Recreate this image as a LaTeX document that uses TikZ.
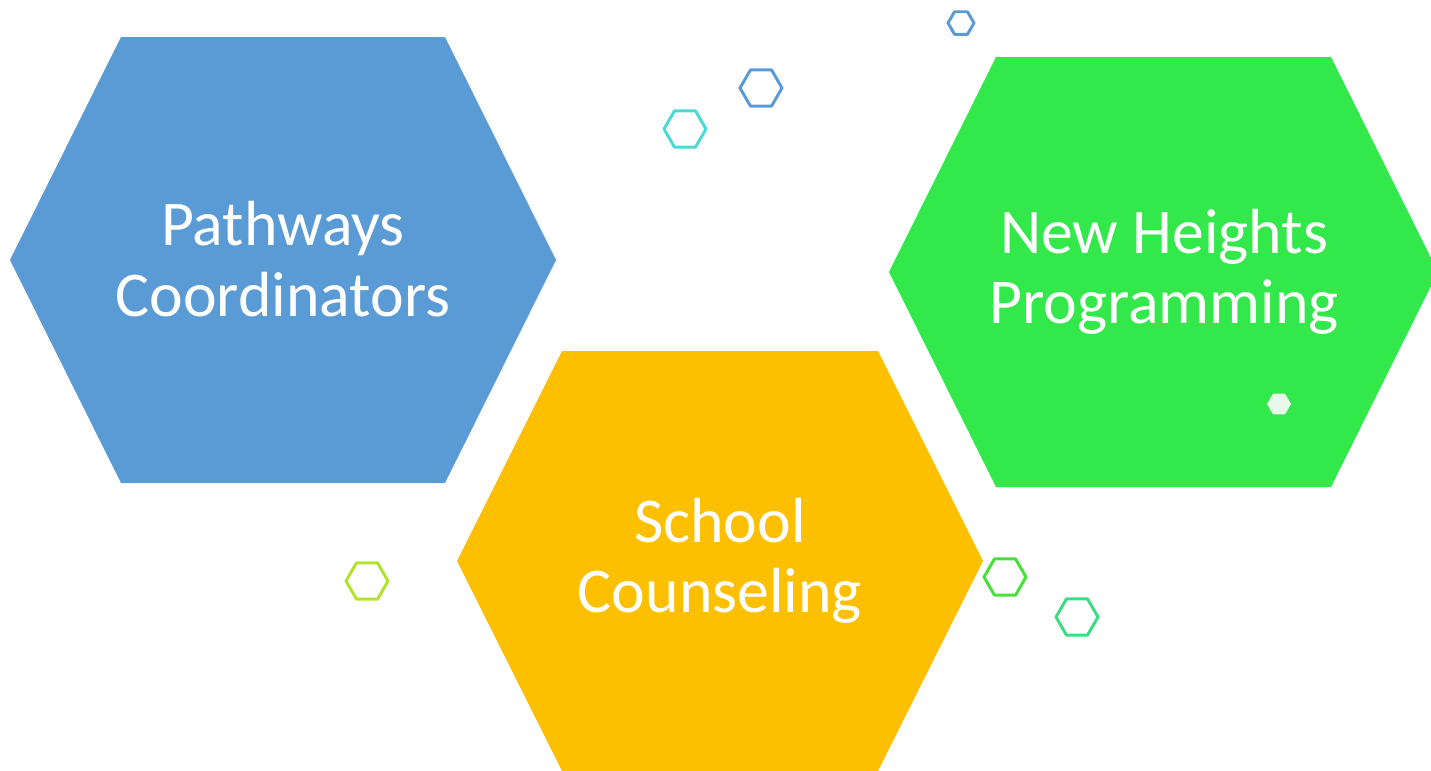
\documentclass[tikz,border=0pt]{standalone}
\usepackage{fontspec}
\setmainfont{Carlito}
\usetikzlibrary{positioning}
\definecolor{hexblue}{HTML}{5B9BD5}
\definecolor{hexorange}{HTML}{FDC000}
\definecolor{hexgreen}{HTML}{33E84A}
\definecolor{hexcyan}{HTML}{4BD9D4}
\definecolor{hexlime}{HTML}{B0E42C}
\definecolor{hexleaf}{HTML}{47E03A}
\definecolor{hexteal}{HTML}{3DDC84}
\definecolor{hexpale}{HTML}{E8F8EA}
\tikzset{font=\fontsize{36.3}{40}\selectfont}
\tikzset{every node/.append style={transform shape=false}}
\tikzset{lbl/.style={text=white, align=center, inner sep=0pt}}
\tikzset{ring/.style={line width=1.7pt, line join=round}}

\begin{document}
\begin{tikzpicture}[x=0.02cm,y=-0.02cm]
\useasboundingbox (0,0) rectangle (1431,771);
% big hexagons
\foreach \cx/\cy/\w/\h/\d/\col in {283/260/273/223/111/hexblue, 720/561/263/210/105/hexorange, 1163.5/272/274.5/215/107/hexgreen}
\fill[\col] ({\cx-\w},\cy) -- ({\cx-\w+\d},{\cy-\h}) -- ({\cx+\w-\d},{\cy-\h}) -- ({\cx+\w},\cy) -- ({\cx+\w-\d},{\cy+\h}) -- ({\cx-\w+\d},{\cy+\h}) -- cycle;
% small outlined hexagons
\foreach \cx/\cy/\r/\col in {961/23/13/hexblue, 761/88/21/hexblue, 685/129/21/hexcyan, 367/581/21/hexlime, 1005/577/21/hexleaf, 1077/617/21/hexteal}
\draw[ring,\col] ({\cx-\r},\cy) -- ({\cx-\r/2},{\cy-0.866*\r}) -- ({\cx+\r/2},{\cy-0.866*\r}) -- ({\cx+\r},\cy) -- ({\cx+\r/2},{\cy+0.866*\r}) -- ({\cx-\r/2},{\cy+0.866*\r}) -- cycle;
\fill[hexpale] (1267,404) -- (1273,393.6) -- (1285,393.6) -- (1291,404) -- (1285,414.4) -- (1273,414.4) -- cycle;
\node[lbl] (path) at (283,259) {Pathways\\Coordinators};
\node[lbl] (school) at (720,561) {School\\Counseling};
\node[lbl] (heights) at (1164,272) {New Heights\\Programming};

\end{tikzpicture}
\end{document}
